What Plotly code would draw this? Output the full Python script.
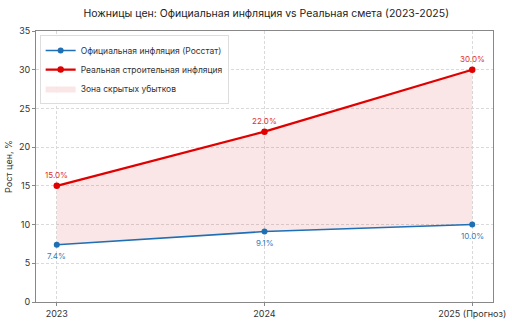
import plotly.graph_objects as go

years = ["2023", "2024", "2025 (Прогноз)"]
official = [7.4, 9.1, 10.0]
real = [15.0, 22.0, 30.0]
y_ticks = [0, 5, 10, 15, 20, 25, 30, 35]

BLUE = "#1f6fb4"
RED = "#e00000"
FONT = "Inter, Lato, sans-serif"

fig = go.Figure()
fig.add_trace(go.Scatter(
    x=years, y=official, mode="lines+markers", name="Официальная инфляция (Росстат)",
    line=dict(color=BLUE, width=1.6), marker=dict(size=6, color=BLUE), legendrank=1))
fig.add_trace(go.Scatter(
    x=years, y=real, mode="lines", fill="tonexty", fillcolor="rgba(220,60,60,0.13)",
    line=dict(width=0, color="rgba(220,60,60,0.13)"), name="Зона скрытых убытков", legendrank=3))
fig.add_trace(go.Scatter(
    x=years, y=real, mode="lines+markers", name="Реальная строительная инфляция",
    line=dict(color=RED, width=2.2), marker=dict(size=6.5, color=RED), legendrank=2))

for i, v in enumerate(real):
    fig.add_annotation(x=i, y=v, text=f"{v:.1f}%", showarrow=False, yshift=11,
                       font=dict(size=8, color="#e03030", family=FONT))
for i, v in enumerate(official):
    fig.add_annotation(x=i, y=v, text=f"{v:.1f}%", showarrow=False, yshift=-11,
                       font=dict(size=8, color="#3b78b8", family=FONT))

fig.update_layout(
    width=512, height=325,
    margin=dict(l=36, r=19, t=31, b=23),
    paper_bgcolor="white", plot_bgcolor="white",
    font=dict(family=FONT, size=9, color="#333"),
    title=dict(text="Ножницы цен: Официальная инфляция vs Реальная смета (2023-2025)",
               x=0.52, xanchor="center", y=0.96, yanchor="middle",
               font=dict(size=10.5, color="#222", family=FONT)),
    showlegend=True,
    legend=dict(x=0.008, y=0.985, xanchor="left", yanchor="top", traceorder="normal",
                bgcolor="rgba(255,255,255,0.9)", bordercolor="#dddddd", borderwidth=1,
                font=dict(size=8.5, color="#333", family=FONT), tracegroupgap=0,
                itemwidth=30),
)
fig.update_xaxes(
    type="category", range=[-0.1, 2.1], automargin=False,
    showline=True, linecolor="#888", linewidth=1, mirror=True,
    showgrid=True, gridcolor="#dadada", griddash="3px,2px", gridwidth=0.7,
    ticks="outside", ticklen=3, tickcolor="#888",
    tickfont=dict(size=9, color="#333"))
fig.update_yaxes(
    range=[0, 35], tickvals=y_ticks, automargin=False,
    showline=True, linecolor="#888", linewidth=1, mirror=True,
    showgrid=True, gridcolor="#dadada", griddash="3px,2px", gridwidth=0.7,
    ticks="outside", ticklen=3, tickcolor="#888", zeroline=False,
    tickfont=dict(size=9, color="#333"),
    title=dict(text="Рост цен, %", font=dict(size=9, color="#333"), standoff=4))

fig.write_html("out.html")
